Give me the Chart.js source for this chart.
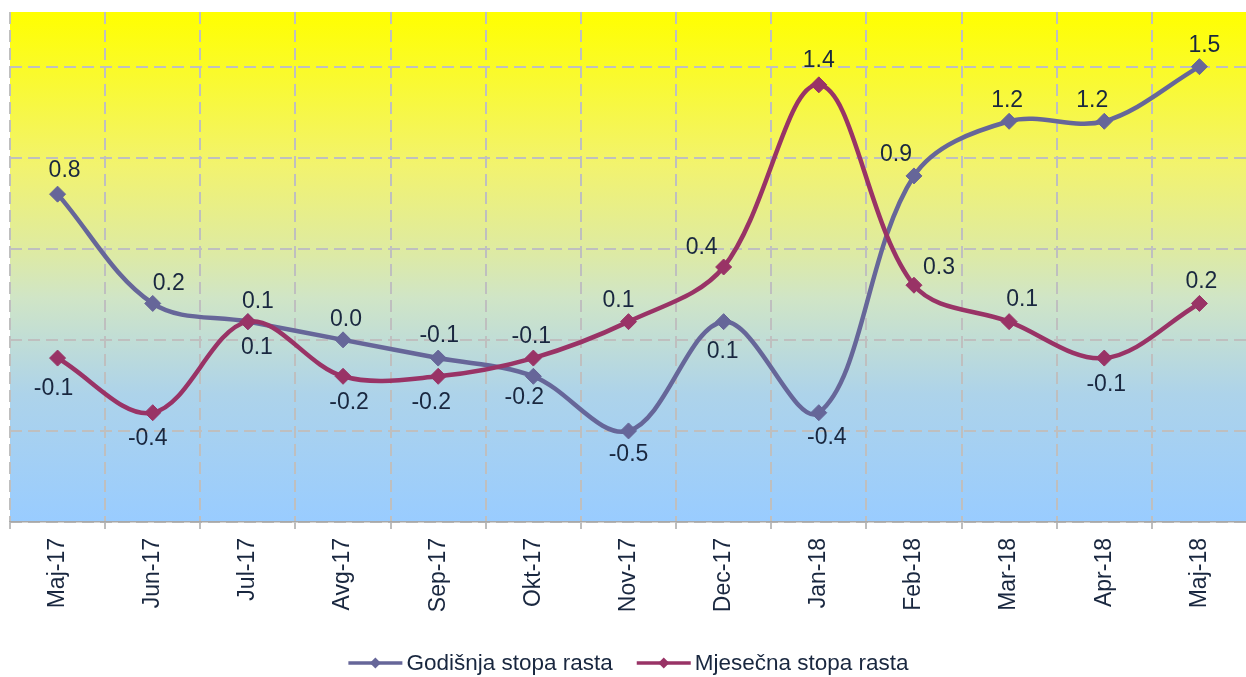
<!DOCTYPE html>
<html><head><meta charset="utf-8">
<script src="https://cdn.jsdelivr.net/npm/chart.js@4/dist/chart.umd.min.js"></script>
<style>
html,body{margin:0;padding:0;background:#fff;overflow:hidden;width:1246px;height:677px}
#wrap{position:absolute;left:0;top:0;width:1256px;height:677px}
</style>
</head><body><div id="wrap"><canvas id="c" width="1256" height="677"></canvas></div>
<script>
// ---- data ----
const months = ['Maj-17','Jun-17','Jul-17','Avg-17','Sep-17','Okt-17','Nov-17','Dec-17','Jan-18','Feb-18','Mar-18','Apr-18','Maj-18'];
const godisnja = [0.8, 0.2, 0.1, 0.0, -0.1, -0.2, -0.5, 0.1, -0.4, 0.9, 1.2, 1.2, 1.5];
const mjesecna = [-0.1, -0.4, 0.1, -0.2, -0.2, -0.1, 0.1, 0.4, 1.4, 0.3, 0.1, -0.1, 0.2];
const seriesNames = ['Godišnja stopa rasta', 'Mjesečna stopa rasta'];
const yTicks = [-1, -0.5, 0, 0.5, 1, 1.5];

// ---- style: label offsets (dx, dy in px from the point) ----
const labelOffsetsG = [[7,-23],[16,-20],[9,26],[3,-20],[1,-22],[-9,21],[0,24],[-1,30],[8,25],[-18,-21],[-2,-21],[-12,-21],[5,-21]];
const labelOffsetsM = [[-4,31],[-5,26],[10,-20],[6,26],[-7,26],[-2,-21],[-10,-21],[-22,-19],[0,-24],[25,-18],[13,-22],[2,27],[2,-22]];

const FONT = "'Liberation Sans', Arial, sans-serif";
const TEXT = '#19273f';
const colG = '#666699';
const colM = '#993366';
const GRID = '#bfbfbf';

const bgPlugin = {
  id: 'bg',
  beforeDraw(chart) {
    const {ctx, chartArea: a} = chart;
    ctx.save();
    ctx.fillStyle = '#fff';
    ctx.fillRect(0, 0, chart.width, chart.height);
    const g = ctx.createLinearGradient(0, a.top, 0, a.bottom);
    g.addColorStop(0, '#ffff00');
    g.addColorStop(0.3, '#f2f36e');
    g.addColorStop(0.46, '#dfeb9f');
    g.addColorStop(0.56, '#d0e5c6');
    g.addColorStop(0.75, '#add3ea');
    g.addColorStop(1, '#99ccff');
    ctx.fillStyle = g;
    ctx.fillRect(a.left, a.top, a.right - a.left, a.bottom - a.top);
    ctx.restore();
  }
};

const labelPlugin = {
  id: 'vals',
  afterDatasetsDraw(chart) {
    const ctx = chart.ctx;
    ctx.save();
    ctx.font = '23px ' + FONT;
    ctx.fillStyle = TEXT;
    ctx.textAlign = 'center';
    ctx.textBaseline = 'middle';
    chart.data.datasets.forEach((ds, d) => {
      const meta = chart.getDatasetMeta(d);
      meta.data.forEach((pt, i) => {
        const off = ds.labelOffsets[i];
        ctx.fillText(ds.data[i].toFixed(1), pt.x + off[0], pt.y + off[1]);
      });
    });
    ctx.restore();
  }
};

const legendPlugin = {
  id: 'legendLines',
  afterDraw(chart) {
    const ctx = chart.ctx, a = chart.chartArea;
    ctx.save();
    ctx.font = '22.5px ' + FONT;
    ctx.textBaseline = 'middle';
    ctx.textAlign = 'left';
    const items = chart.data.datasets.map(ds => ({text: ds.label, color: ds.borderColor}));
    const lineW = 54, gapT = 4, gapI = 24;
    const widths = items.map(it => ctx.measureText(it.text).width);
    const total = widths.reduce((s, w) => s + lineW + gapT + w, 0) + gapI * (items.length - 1);
    let x = (a.left + a.right) / 2 - total / 2;
    const y = 663;
    items.forEach((it, i) => {
      ctx.strokeStyle = it.color;
      ctx.lineWidth = 3.5;
      ctx.beginPath(); ctx.moveTo(x, y); ctx.lineTo(x + lineW, y); ctx.stroke();
      const cx = x + lineW / 2, r = 5.5;
      ctx.fillStyle = it.color;
      ctx.beginPath(); ctx.moveTo(cx - r, y); ctx.lineTo(cx, y - r); ctx.lineTo(cx + r, y); ctx.lineTo(cx, y + r); ctx.closePath(); ctx.fill();
      ctx.fillStyle = TEXT;
      ctx.fillText(it.text, x + lineW + gapT, y + 1);
      x += lineW + gapT + widths[i] + gapI;
    });
    ctx.restore();
  }
};

function series(label, data, color, offsets, order) {
  return {
    label, data, labelOffsets: offsets, order,
    borderColor: color, backgroundColor: color,
    borderWidth: 4.5, tension: 0.35, fill: false, clip: false,
    pointStyle: 'rectRot', pointRadius: 8, pointHoverRadius: 8,
    pointBackgroundColor: color, pointBorderColor: color, pointBorderWidth: 1
  };
}

new Chart(document.getElementById('c'), {
  type: 'line',
  data: {
    labels: months,
    datasets: [
      series(seriesNames[0], godisnja, colG, labelOffsetsG, 1),
      series(seriesNames[1], mjesecna, colM, labelOffsetsM, 0)
    ]
  },
  options: {
    responsive: false,
    devicePixelRatio: 1,
    animation: false,
    layout: {padding: {left: 10, top: 12, right: 0, bottom: 0}},
    plugins: {legend: {display: false}, tooltip: {enabled: false}},
    scales: {
      x: {
        type: 'category',
        offset: true,
        grid: {offset: true, color: GRID, lineWidth: 2, drawTicks: true, tickLength: 7,
               tickColor: '#a8a8a8', tickWidth: 1.5, tickBorderDash: []},
        border: {display: true, color: '#a8a8a8', width: 1.5, dash: [12, 6]},
        ticks: {minRotation: 90, maxRotation: 90, autoSkip: false, padding: 9,
                color: TEXT, font: {family: FONT, size: 23}},
        afterFit(s) { s.height = 155; }
      },
      y: {
        min: -1, max: 1.8,
        grid: {color: GRID, lineWidth: 2, drawTicks: false},
        border: {display: false, dash: [12, 6]},
        ticks: {display: false},
        afterBuildTicks(s) { s.ticks = yTicks.map(v => ({value: v})); },
        afterFit(s) { s.width = 0; }
      }
    }
  },
  plugins: [bgPlugin, labelPlugin, legendPlugin]
});
</script>
</body></html>
